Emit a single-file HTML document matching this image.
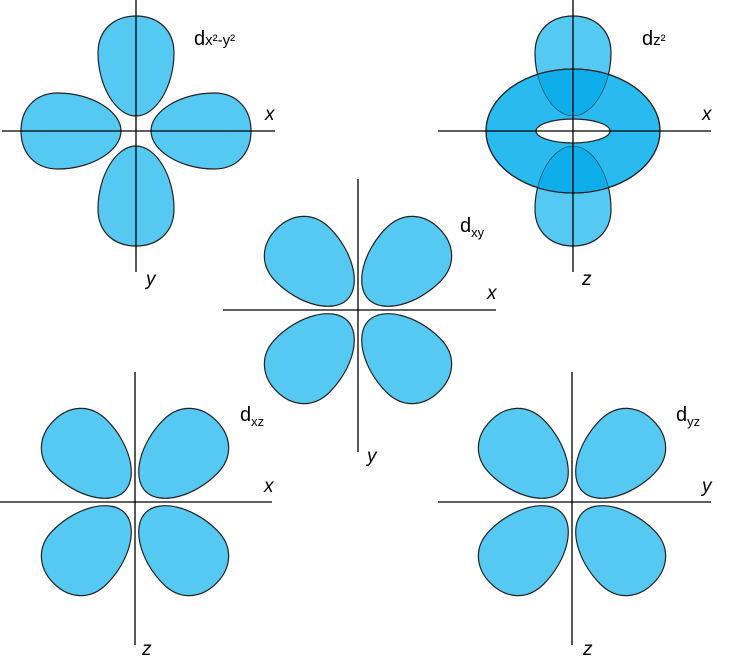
<!DOCTYPE html>
<html><head><meta charset="utf-8"><style>
html,body{margin:0;padding:0;background:#fff}
svg{display:block}
text{font-family:"Liberation Sans",sans-serif;fill:#000}
</style></head><body>
<svg width="730" height="667" viewBox="0 0 730 667" xmlns="http://www.w3.org/2000/svg">
<defs>
<path id="L" d="M0,-15 C-20,-15 -38,-45 -38,-78 C-38,-102 -21,-115 0,-115 C21,-115 38,-102 38,-78 C38,-45 20,-15 0,-15Z" fill="#56c9f3" stroke="#222" stroke-width="1.2"/>
<path id="D" d="M0,-15 C-20,-15 -38,-45 -38,-78 C-38,-102 -21,-115 0,-115 C21,-115 38,-102 38,-78 C38,-45 20,-15 0,-15Z" fill="#0eaeea" stroke="#333" stroke-width="0.6"/>
<clipPath id="tc"><ellipse cx="573" cy="131" rx="87" ry="62"/></clipPath>
</defs>
<!-- dx2-y2 -->
<g transform="translate(136,131)">
<use href="#L"/><use href="#L" transform="rotate(90)"/><use href="#L" transform="rotate(180)"/><use href="#L" transform="rotate(270)"/>
</g>
<!-- dz2 -->
<g transform="translate(573,131)"><use href="#L"/><use href="#L" transform="rotate(180)"/></g>
<ellipse cx="573" cy="131" rx="87" ry="62" fill="#29baef" stroke="#222" stroke-width="1.2"/>
<g clip-path="url(#tc)">
<g transform="translate(573,131)">
<use href="#D"/><use href="#D" transform="rotate(180)"/>
</g>
</g>
<ellipse cx="573" cy="131" rx="87" ry="62" fill="none" stroke="#222" stroke-width="1.2"/>
<ellipse cx="573" cy="131" rx="37" ry="12" fill="#fff" stroke="#222" stroke-width="1.2"/>
<!-- dxy -->
<g transform="translate(358,310)">
<use href="#L" transform="rotate(45)"/><use href="#L" transform="rotate(135)"/><use href="#L" transform="rotate(225)"/><use href="#L" transform="rotate(315)"/>
</g>
<!-- dxz -->
<g transform="translate(135,502)">
<use href="#L" transform="rotate(45)"/><use href="#L" transform="rotate(135)"/><use href="#L" transform="rotate(225)"/><use href="#L" transform="rotate(315)"/>
</g>
<!-- dyz -->
<g transform="translate(572,502)">
<use href="#L" transform="rotate(45)"/><use href="#L" transform="rotate(135)"/><use href="#L" transform="rotate(225)"/><use href="#L" transform="rotate(315)"/>
</g>
<!-- axes -->
<g stroke="#000" stroke-width="1.3">
<line x1="136" y1="0" x2="136" y2="272"/><line x1="2" y1="131" x2="275" y2="131"/>
<line x1="573" y1="0" x2="573" y2="272"/><line x1="438" y1="131" x2="711" y2="131"/>
<line x1="358" y1="179" x2="358" y2="452"/><line x1="223" y1="310" x2="496" y2="310"/>
<line x1="135" y1="372" x2="135" y2="645"/><line x1="0" y1="502" x2="272" y2="502"/>
<line x1="572" y1="372" x2="572" y2="645"/><line x1="438" y1="502" x2="711" y2="502"/>
</g>
<!-- labels -->
<g font-size="19" font-style="italic">
<text x="265" y="120">x</text><text x="146" y="285">y</text>
<text x="702" y="120">x</text><text x="582" y="285">z</text>
<text x="487" y="299">x</text><text x="367" y="462">y</text>
<text x="264" y="492">x</text><text x="142" y="655">z</text>
<text x="702" y="492">y</text><text x="583" y="655">z</text>
</g>
<text x="194" y="45" font-size="20">d<tspan font-size="15">x²-y²</tspan></text>
<text x="642" y="45" font-size="20">d<tspan font-size="15">z²</tspan></text>
<text x="460" y="232" font-size="20">d<tspan font-size="13" dy="5">xy</tspan></text>
<text x="240" y="421" font-size="20">d<tspan font-size="13" dy="5">xz</tspan></text>
<text x="676" y="421" font-size="20">d<tspan font-size="13" dy="5">yz</tspan></text>
</svg>
</body></html>
